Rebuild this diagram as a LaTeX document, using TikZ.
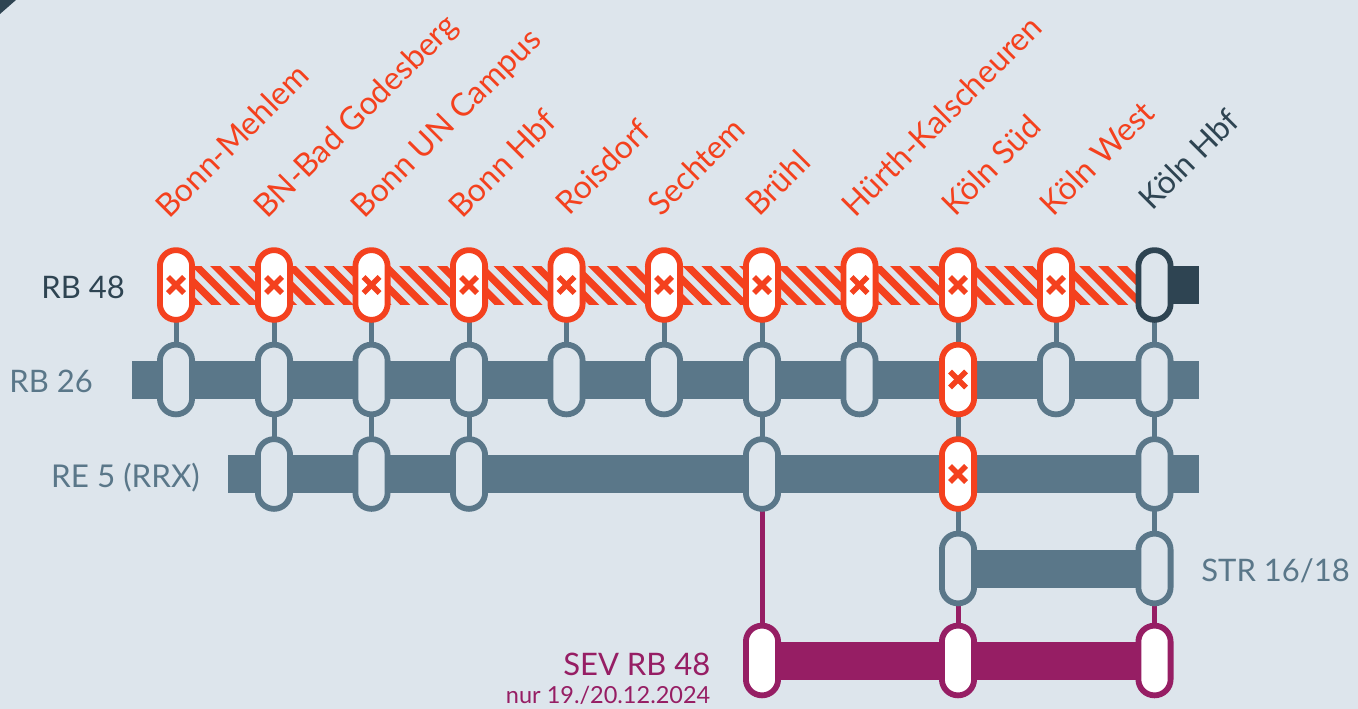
\documentclass[tikz,border=0pt]{standalone}
\usepackage{fontspec}
\setmainfont{Lato}
\definecolor{paper}{HTML}{DDE5EC}
\definecolor{signal}{HTML}{F4411E}
\definecolor{ink}{HTML}{2E4452}
\definecolor{slate}{HTML}{5A7789}
\definecolor{sev}{HTML}{961E64}
\usetikzlibrary{backgrounds}
\tikzset{
	halt/.style={rectangle, inner sep=0pt, outer sep=0pt, minimum width=32.2pt, minimum height=69.7pt, rounded corners=16pt, line width=5.8pt},
	slatehalt/.style={halt, draw=slate, fill=paper},
	inkhalt/.style={halt, draw=ink, fill=paper},
	sevhalt/.style={halt, draw=sev, fill=white},
	cancelhalt/.style={halt, draw=signal, fill=white, path picture={
		\draw[signal, line width=5.6pt] (path picture bounding box.center) +(-8pt,-8pt) -- +(8pt,8pt);
		\draw[signal, line width=5.6pt] (path picture bounding box.center) +(-8pt,8pt) -- +(8pt,-8pt);
	}},
	station/.style={rotate=45, anchor=base west, inner sep=0pt, font=\fontsize{32pt}{32pt}\selectfont},
	linename/.style={anchor=base east, inner sep=0pt, font=\fontsize{31pt}{31pt}\selectfont},
	bar/.style={line width=38pt},
	link/.style={line width=5pt, slate},
}
\begin{document}
\begin{tikzpicture}[x=1pt,y=-1pt]
	\useasboundingbox (0,0) rectangle (1358,709);
	%stations
	\foreach \st/\px/\sty/\col/\lx/\ly/\name in {a/176/cancelhalt/signal/169/220/Bonn-Mehlem, b/274/cancelhalt/signal/267/220/BN-Bad Godesberg, c/371.5/cancelhalt/signal/364.5/220/Bonn UN Campus, d/469/cancelhalt/signal/462/220/Bonn Hbf, e/566.5/cancelhalt/signal/569/216.5/Roisdorf, f/664/cancelhalt/signal/661/218/Sechtem, g/762/cancelhalt/signal/759/218/Brühl, h/859.5/cancelhalt/signal/855.5/218.5/Hürth-Kalscheuren, i/958/cancelhalt/signal/955/217.5/Köln Süd, j/1056/cancelhalt/signal/1053.5/217.8/Köln West, k/1154.5/inkhalt/ink/1152.5/211.8/Köln Hbf}
	{
		\node[\sty] (rb48\st) at (\px,285) {};
		\node[station, text=\col] (label\st) at (\lx,\ly) {\name};
	}
	%second row
	\foreach \st/\px/\sty in {a/176/slatehalt, b/274/slatehalt, c/371.5/slatehalt, d/469/slatehalt, e/566.5/slatehalt, f/664/slatehalt, g/762/slatehalt, h/859.5/slatehalt, i/958/cancelhalt, j/1056/slatehalt, k/1154.5/slatehalt}
	\node[\sty] (rb26\st) at (\px,379.5) {};
	%third row
	\foreach \st/\px/\sty in {b/274/slatehalt, c/371.5/slatehalt, d/469/slatehalt, g/762/slatehalt, i/958/cancelhalt, k/1154.5/slatehalt}
	\node[\sty] (re5\st) at (\px,474) {};
	\node[slatehalt] (stri) at (958,568.5) {};
	\node[slatehalt] (strk) at (1154.5,568.5) {};
	\node[sevhalt] (sevg) at (762,660.5) {};
	\node[sevhalt] (sevi) at (958,660.5) {};
	\node[sevhalt] (sevk) at (1154.5,660.5) {};
	%line names
	\node[linename, text=ink] (rb48name) at (125,298) {RB 48};
	\node[linename, text=slate] (rb26name) at (93,392) {RB 26};
	\node[linename, text=slate, font=\fontsize{31.4pt}{31.4pt}\selectfont] (re5name) at (200,487) {RE 5 (RRX)};
	\node[linename, text=slate] (strname) at (1350,581) {STR 16/18};
	\node[linename, text=sev] (sevname) at (710.5,675) {SEV RB 48};
	\node[linename, text=sev, font=\fontsize{23.5pt}{23.5pt}\selectfont] (sevnote) at (710.5,703) {nur 19./20.12.2024};
	\coordinate (rb48end) at (1199,285);
	\coordinate (rb26start) at (132,379.5);
	\coordinate (rb26end) at (1199,379.5);
	\coordinate (re5start) at (228,474);
	\coordinate (re5end) at (1199,474);
	\begin{pgfonlayer}{background}
		\fill[paper] (0,0) rectangle (1358,709);
		\fill[ink] (0,0) -- (16,0) -- (0,14) -- cycle;
		%hatched line
		\begin{scope}
			\clip (176,266) rectangle (1155,304);
			\foreach \i in {0,...,54}
			\draw[signal, line width=7.2pt] (135.7+\i*18.89,262) -- +(46,46);
		\end{scope}
		\draw[bar, ink] (rb48k.center) -- (rb48end);
		\draw[bar, slate] (rb26start) -- (rb26end);
		\draw[bar, slate] (re5start) -- (re5end);
		\draw[bar, slate] (stri.center) -- (strk.center);
		\draw[bar, sev] (sevg.center) -- (sevk.center);
		\foreach \st in {a,b,c,d,e,f,g,h,i,j,k}
		\draw[link] (rb48\st.south) -- (rb26\st.north);
		\foreach \st in {b,c,d,g,i,k}
		\draw[link] (rb26\st.south) -- (re5\st.north);
		\draw[link] (re5i.south) -- (stri.north);
		\draw[link] (re5k.south) -- (strk.north);
		\draw[link, sev] (re5g.south) -- (sevg.north);
		\draw[link, sev] (stri.south) -- (sevi.north);
		\draw[link, sev] (strk.south) -- (sevk.north);
	\end{pgfonlayer}
\end{tikzpicture}
\end{document}
